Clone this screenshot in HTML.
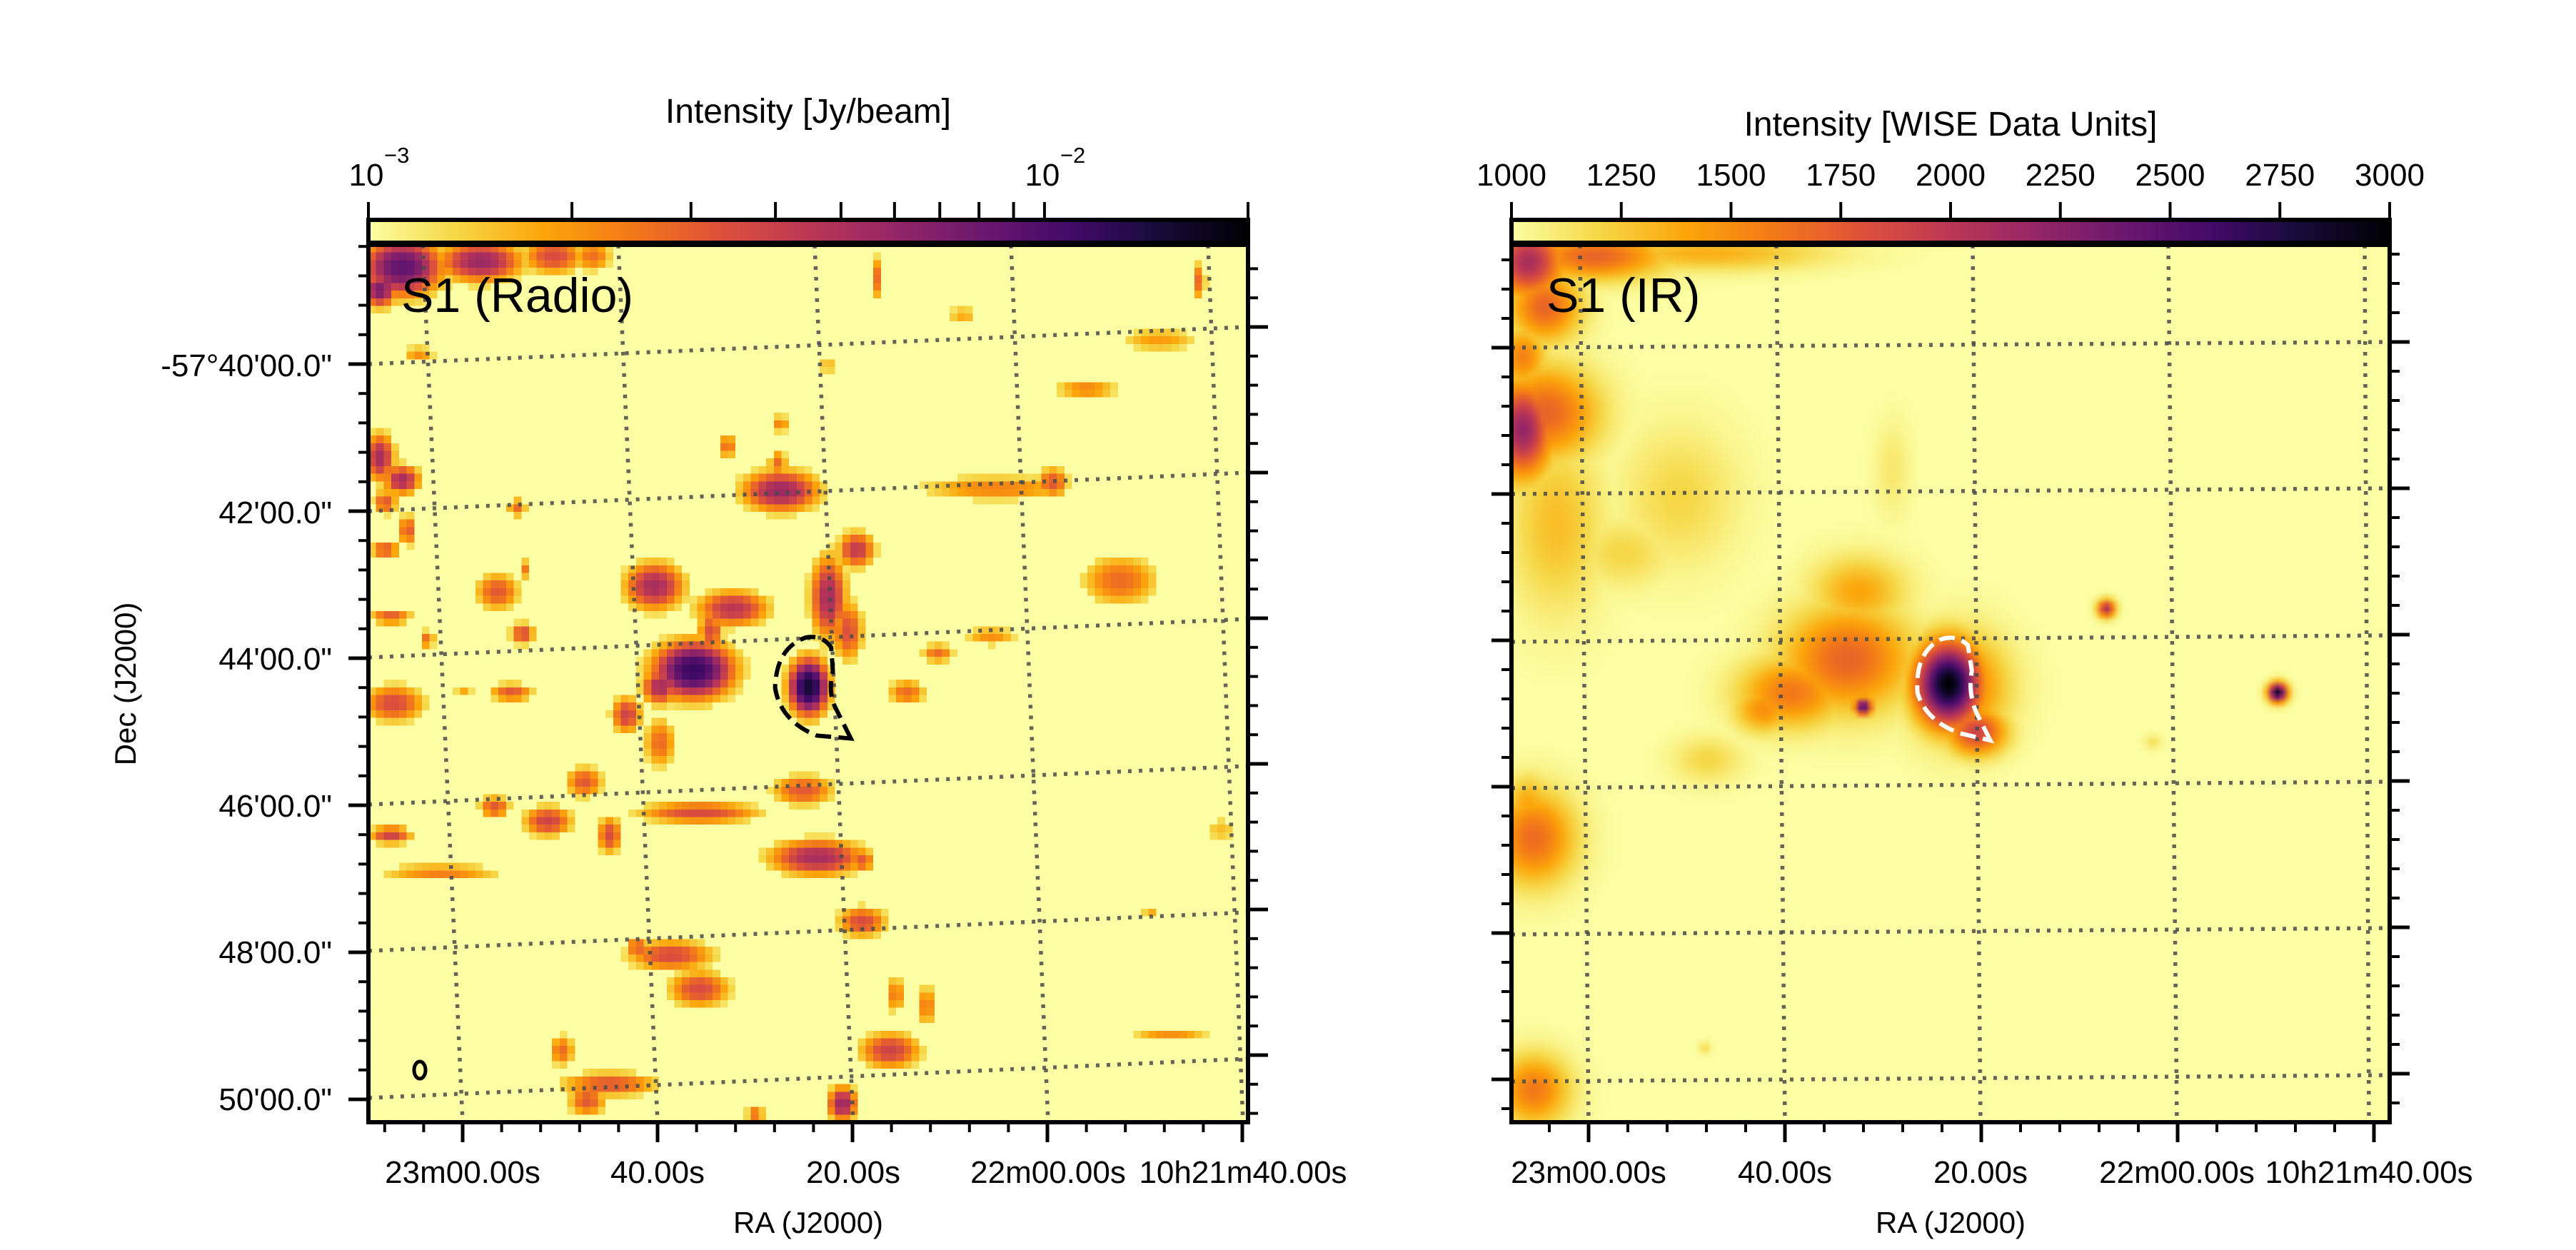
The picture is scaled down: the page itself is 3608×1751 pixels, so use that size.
<!DOCTYPE html>
<html><head><meta charset="utf-8"><style>
html,body{margin:0;padding:0;background:#fff;}
#wrap{position:relative;width:3608px;height:1751px;overflow:hidden;background:#fff;}
canvas{position:absolute;}
#radio{left:516px;top:343px;width:1232px;height:1229px;image-rendering:pixelated;}
#ir{left:2117px;top:343px;width:1230px;height:1229px;}
svg{position:absolute;left:0;top:0;}
text{font-family:"Liberation Sans",Arial,sans-serif;fill:#000;}
</style></head><body>
<div id="wrap">
<canvas id="radio" width="115" height="115"></canvas>
<canvas id="ir" width="160" height="160"></canvas>
<svg id="svg" width="3608" height="1751" viewBox="0 0 3608 1751" xmlns="http://www.w3.org/2000/svg">
<defs>
<linearGradient id="cmap" x1="0" x2="1" y1="0" y2="0">
<stop offset="0" stop-color="#fcffa4"/><stop offset="0.1" stop-color="#f6d746"/><stop offset="0.2" stop-color="#fca50a"/><stop offset="0.3" stop-color="#f37819"/><stop offset="0.4" stop-color="#dd513a"/><stop offset="0.5" stop-color="#bc3754"/><stop offset="0.6" stop-color="#932667"/><stop offset="0.7" stop-color="#6a176e"/><stop offset="0.8" stop-color="#420a68"/><stop offset="0.9" stop-color="#160b39"/><stop offset="1" stop-color="#000004"/>
</linearGradient>
</defs>
<g id="g"></g>
<rect x="516" y="308" width="1232" height="32" fill="url(#cmap)" stroke="#000" stroke-width="6"/>
<rect x="2117" y="308" width="1230" height="32" fill="url(#cmap)" stroke="#000" stroke-width="6"/>
<text x="1132" y="172" font-size="48" text-anchor="middle">Intensity [Jy/beam]</text>
<text x="2732" y="190" font-size="48" text-anchor="middle">Intensity [WISE Data Units]</text>
<text x="562" y="437" font-size="68">S1 (Radio)</text>
<text x="2166" y="437" font-size="68">S1 (IR)</text>
<path transform="translate(516,343) scale(0.7857)" d="M 860 880 L 835 830 Q 818 800 828 760 L 825 718 Q 810 695 780 700 Q 727 718 725 790 Q 735 850 800 875 Z" fill="none" stroke="#000" stroke-width="7.6" stroke-dasharray="28 13"/>
<path transform="translate(2117,343) scale(0.7844)" d="M 855 885 L 830 835 Q 815 800 822 760 L 815 715 Q 795 695 765 705 Q 720 730 725 800 Q 740 850 800 872 Z" fill="none" stroke="#fff" stroke-width="7.6" stroke-dasharray="28 13"/>
<ellipse cx="588" cy="1499" rx="8" ry="12" fill="none" stroke="#000" stroke-width="5"/>
<rect x="516" y="343" width="1232" height="1229" fill="none" stroke="#000" stroke-width="6"/>
<rect x="2117" y="343" width="1230" height="1229" fill="none" stroke="#000" stroke-width="6"/>
<text x="1132" y="1727" font-size="42" text-anchor="middle">RA (J2000)</text>
<text x="2732" y="1727" font-size="42" text-anchor="middle">RA (J2000)</text>
<text transform="translate(190,958) rotate(-90)" font-size="42" text-anchor="middle">Dec (J2000)</text>
</svg>
</div>
<script>
const raTickLabels = ["23m00.00s","40.00s","20.00s","22m00.00s","10h21m40.00s"];
const decTickLabels = ["-57°40'00.0\"","42'00.0\"","44'00.0\"","46'00.0\"","48'00.0\"","50'00.0\""];
const irCbarTicks = [1000,1250,1500,1750,2000,2250,2500,2750,3000];
const radioCbarMin = 0.001, radioCbarMax = 0.02;
const radioCbarTicks = [0.001,0.002,0.003,0.004,0.005,0.006,0.007,0.008,0.009,0.01,0.02];
const radioBX = [60,200,330,400,20,905,1480,1060,1410,90,820,1280,735,640,20,60,30,70,30,265,735,730,1120,1220,870,230,280,510,650,610,580,520,820,855,785,1340,40,275,105,45,255,170,460,520,960,1015,1110,385,225,320,430,590,775,40,130,800,880,880,540,590,480,940,995,930,345,430,390,845,690,1430,1520,1395];
const radioBY = [40,30,20,20,80,60,65,125,170,195,215,258,320,360,380,420,460,510,545,470,440,390,435,425,545,620,580,610,650,690,760,790,630,690,790,600,665,695,705,820,800,795,840,890,800,730,700,960,1005,1030,1055,1015,975,1055,1120,1095,1100,1210,1270,1330,1255,1340,1360,1440,1440,1500,1530,1535,1555,1410,1045,1190];
const radioBRX = [70,70,50,30,30,10,12,25,60,25,20,50,12,15,25,30,20,15,25,15,65,15,120,25,30,35,10,50,60,20,70,30,30,25,35,60,35,20,12,50,35,15,25,25,30,25,40,30,25,40,20,100,50,35,100,80,20,40,70,50,20,12,12,50,20,80,30,25,15,60,25,15];
const radioBRY = [50,35,30,25,30,35,30,12,18,12,15,15,15,20,40,25,20,25,15,15,35,20,20,25,30,30,15,40,30,30,50,30,70,50,50,40,12,18,15,30,15,8,30,40,20,15,15,25,18,25,30,18,25,15,10,30,20,25,25,30,15,30,35,30,25,20,25,30,15,10,20,8];
const radioBAmp = [0.72,0.58,0.42,0.32,0.65,0.33,0.33,0.2,0.22,0.25,0.15,0.28,0.3,0.33,0.55,0.55,0.38,0.38,0.38,0.33,0.58,0.33,0.28,0.38,0.48,0.38,0.3,0.55,0.5,0.42,0.82,0.55,0.55,0.4,0.9,0.33,0.38,0.42,0.33,0.42,0.38,0.2,0.45,0.33,0.33,0.33,0.25,0.38,0.38,0.45,0.42,0.42,0.38,0.45,0.33,0.55,0.38,0.42,0.42,0.42,0.38,0.33,0.33,0.45,0.33,0.38,0.38,0.58,0.33,0.25,0.15,0.2];
const irBX = [30,150,350,60,20,60,20,80,300,200,40,30,40,600,500,620,450,628,780,800,830,1062,1368,1145,350,345,680];
const irBY = [30,20,15,110,330,300,200,500,450,550,1060,1000,1510,740,800,620,830,825,785,790,870,650,800,888,920,1435,400];
const irBRX = [60,120,200,60,50,90,40,80,100,80,70,40,60,110,90,80,50,15,55,80,50,15,16,15,60,10,30];
const irBRY = [60,40,30,60,80,80,50,150,120,60,80,50,60,90,60,60,40,15,70,90,40,15,16,12,40,10,80];
const irBAmp = [0.55,0.35,0.18,0.35,0.6,0.35,0.28,0.15,0.1,0.1,0.33,0.2,0.3,0.35,0.3,0.2,0.25,0.8,1.0,0.32,0.45,0.55,0.95,0.08,0.1,0.1,0.06];

const cmapStops=[[252,255,164],[246,215,70],[252,165,10],[243,120,25],[221,81,58],[188,55,84],[147,38,103],[106,23,110],[66,10,104],[22,11,57],[0,0,4]];
function cmap(v){v=Math.max(0,Math.min(1,v));const f=v*10;const i=Math.min(9,Math.floor(f));const t=f-i;const a=cmapStops[i],b=cmapStops[i+1];return [a[0]+(b[0]-a[0])*t,a[1]+(b[1]-a[1])*t,a[2]+(b[2]-a[2])*t];}
function field(px,py,X,Y,RX,RY,A,p){let v=0;for(let k=0;k<X.length;k++){const dx=(px-X[k])/RX[k],dy=(py-Y[k])/RY[k];const g=A[k]*Math.exp(-Math.pow(dx*dx+dy*dy,p));if(g>v)v=g;}return v;}
function paint(id,n,X,Y,RX,RY,A,p,thr){const c=document.getElementById(id);const ctx=c.getContext('2d');const im=ctx.createImageData(n,n);for(let j=0;j<n;j++)for(let i=0;i<n;i++){const px=(i+0.5)/n*1568,py=(j+0.5)/n*1568;let v=field(px,py,X,Y,RX,RY,A,p);if(v<thr)v=0;const col=cmap(v);const o=(j*n+i)*4;im.data[o]=col[0];im.data[o+1]=col[1];im.data[o+2]=col[2];im.data[o+3]=255;}ctx.putImageData(im,0,0);}
paint('radio',115,radioBX,radioBY,radioBRX,radioBRY,radioBAmp,1.3,0.07);
paint('ir',160,irBX,irBY,irBRX,irBRY,irBAmp,1,0);

const NS='http://www.w3.org/2000/svg';
const gEl=document.getElementById('g');
const svgEl=document.getElementById('svg');
function mk(tag,attrs,parent){const e=document.createElementNS(NS,tag);for(const k in attrs)e.setAttribute(k,attrs[k]);(parent||svgEl).appendChild(e);return e;}
const panels=[
 {x0:516,x1:1748,yL:[510,716,921,1127,1332,1538],yR:[458,662,867,1073,1278,1483],xT:[592,866,1141,1416,1692],xB:[648,921,1195,1468,1741],labels:true,pre:'radio'},
 {x0:2117,x1:3347,yL:[487,692,899,1104,1309,1515],yR:[479,684,890,1095,1300,1506],xT:[2213,2488,2763,3037,3312],xB:[2225,2500,2774,3049,3318],labels:false,pre:'ir'}];
const yTop=343,yBot=1572;
panels.forEach(P=>{
 for(let i=0;i<P.yL.length;i++){
  const l=mk('line',{x1:P.x0,y1:P.yL[i],x2:P.x1,y2:P.yR[i],stroke:'#4a4a4a',"stroke-opacity":0.85,"stroke-width":5.5,"stroke-dasharray":"5 10"},gEl);
  
  
 }
 for(let i=0;i<P.xT.length;i++){
  const l=mk('line',{x1:P.xT[i],y1:yTop,x2:P.xB[i],y2:yBot,stroke:'#4a4a4a',"stroke-opacity":0.85,"stroke-width":5.5,"stroke-dasharray":"5 10"},gEl);
  
  
 }
 [[P.yL,P.x0,-1],[P.yR,P.x1,1]].forEach(([ys,x,dir])=>{
  const sp=(ys[1]-ys[0])/5;
  for(let k=-10;k<ys.length*5+10;k++){
   const y=ys[0]+k*sp; if(y<yTop+1||y>yBot-1)continue;
   const major=(k%5===0)&&k>=0&&k<ys.length*5;
   const t=mk('line',{x1:x,y1:y,x2:x+dir*(major?28:14),y2:y,stroke:'#000',"stroke-width":major?5:4});
   
   
  }
 });
 const sp=(P.xB[1]-P.xB[0])/5;
 for(let k=-10;k<P.xB.length*5+10;k++){
  const x=P.xB[0]+k*sp; if(x<P.x0+1||x>P.x1+2)continue;
  const major=(k%5===0)&&k>=0&&k<P.xB.length*5;
  const t=mk('line',{x1:x,y1:yBot,x2:x,y2:yBot+(major?28:14),stroke:'#000',"stroke-width":major?5:4});
  
  
 }
 raTickLabels.forEach((s,i)=>{
  const t=mk('text',{x:P.xB[i],y:1657,"font-size":44,"text-anchor":"middle"});t.textContent=s;
  
  
 });
 if(P.labels){
  decTickLabels.forEach((s,i)=>{
   const t=mk('text',{x:465,y:P.yL[i]+17,"font-size":44,"text-anchor":"end"});t.textContent=s;
   
   
  });
 }
});
const lx=v=>516+1232*(Math.log10(v)-Math.log10(radioCbarMin))/(Math.log10(radioCbarMax)-Math.log10(radioCbarMin));
radioCbarTicks.forEach(v=>{
 const t=mk('line',{x1:lx(v),y1:283,x2:lx(v),y2:305,stroke:'#000',"stroke-width":4});
 
 
});
[[0.001,'−3'],[0.01,'−2']].forEach(([v,e])=>{
 const t=mk('text',{x:lx(v)-3,y:260,"font-size":44,"text-anchor":"middle"});t.textContent='10';
 
 
 const s=mk('text',{x:lx(v)+22,y:228,"font-size":31});s.textContent=e;
 
 
});
const ix=v=>2117+1230*(v-1000)/2000;
irCbarTicks.forEach(v=>{
 const t=mk('line',{x1:ix(v),y1:283,x2:ix(v),y2:305,stroke:'#000',"stroke-width":4});
 
 
 const l=mk('text',{x:ix(v),y:260,"font-size":44,"text-anchor":"middle"});l.textContent=String(v);
 
 
});
</script>
</body></html>
